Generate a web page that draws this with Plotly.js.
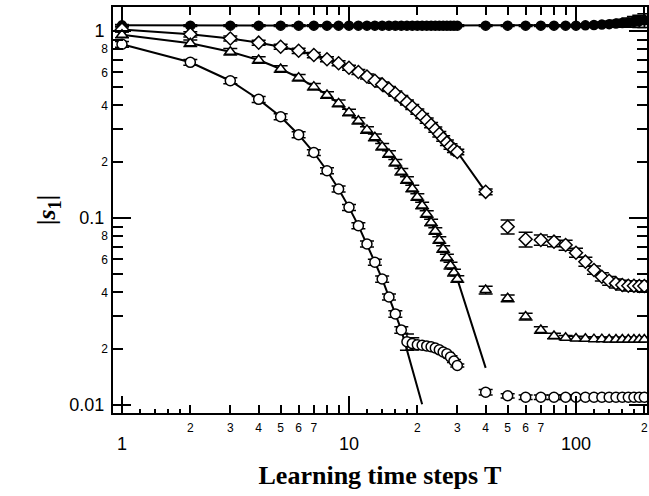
<!DOCTYPE html>
<html>
<head>
<meta charset="utf-8">
<script src="https://cdn.plot.ly/plotly-3.0.1.min.js"></script>
<style>html,body{margin:0;padding:0;background:#fff;}</style>
</head>
<body>
<div id="chart" style="width:649px;height:496px;"></div>
<script>
// ---------- data ----------
// filled circles
const fillT = [1,2,3,4,5,6,7,8,9,10,11,12,13,14,15,16,17,18,19,20,21,22,23,24,25,26,27,28,29,30,
               40,50,60,70,80,90,100,110,120,130,140,150,160,170,180,190,200];
const fillV = [1.072,1.068,1.068,1.068,1.068,1.068,1.068,1.068,1.068,1.068,1.068,1.068,1.068,1.068,1.068,
               1.068,1.068,1.068,1.068,1.068,1.068,1.068,1.068,1.068,1.068,1.068,1.068,1.068,1.068,1.068,
               1.068,1.068,1.068,1.068,1.068,1.068,1.068,1.072,1.076,1.082,1.088,1.095,1.102,1.11,1.12,1.13,1.14];
const fillE = [0.012,0.012,0.012,0.012,0.012,0.012,0.012,0.012,0.012,0.012,0.012,0.012,0.012,0.012,0.012,
               0.012,0.012,0.012,0.012,0.012,0.012,0.012,0.012,0.012,0.012,0.012,0.012,0.012,0.012,0.012,
               0.012,0.012,0.012,0.012,0.012,0.012,0.014,0.018,0.024,0.03,0.038,0.046,0.055,0.064,0.074,0.085,0.095];

// open diamonds
const diaT1 = [1,2,3,4,5,6,7,8,9,10,11,12,13,14,15,16,17,18,19,20,21,22,23,24,25,26,27,28,29,30];
const diaV1 = [1.019,0.960,0.912,0.866,0.824,0.784,0.744,0.706,0.672,0.636,0.604,0.571,0.542,0.518,0.490,
               0.463,0.438,0.415,0.392,0.371,0.351,0.332,0.314,0.297,0.281,0.266,0.253,0.241,0.232,0.2254];
const diaE1 = [0.03,0.03,0.028,0.027,0.026,0.025,0.024,0.022,0.021,0.02,0.019,0.018,0.017,0.016,0.015,
               0.015,0.014,0.013,0.012,0.012,0.011,0.011,0.010,0.010,0.0095,0.009,0.0085,0.0082,0.0079,0.0077];
const diaT2 = [40,50,60,70,80,90,100,110,120,130,140,150,160,170,180,190,200];
const diaV2 = [0.138,0.0898,0.0769,0.0763,0.0747,0.0717,0.0652,0.0584,0.0527,0.0485,0.0462,0.0447,0.0438,0.0434,0.0434,0.0433,0.0433];
const diaE2 = [0.005,0.0078,0.007,0.0047,0.0046,0.0044,0.0036,0.0032,0.0026,0.0024,0.0025,0.0025,0.0026,0.0027,0.0028,0.0028,0.0028];

// open triangles
const triT1 = [1,2,3,4,5,6,7,8,9,10,11,12,13,14,15,16,17,18,19,20,21,22,23,24,25,26,27,28,29,30];
const triV1 = [0.955,0.860,0.775,0.700,0.626,0.563,0.504,0.455,0.410,0.367,0.331,0.296,0.270,0.2405,0.2199,
               0.1975,0.1768,0.1597,0.1438,0.1295,0.1166,0.1050,0.0946,0.0852,0.0763,0.0683,0.0615,0.0557,0.0511,0.0472];
const triE1 = [0.035,0.035,0.031,0.028,0.025,0.023,0.020,0.018,0.017,0.015,0.013,0.012,0.011,0.0097,0.0089,
               0.008,0.0072,0.0065,0.0058,0.0052,0.0047,0.0042,0.0038,0.0034,0.0031,0.0028,0.0025,0.0023,0.0021,0.0019];
const triCurveEndT = [40];
const triCurveEndV = [0.0158];
const triT2 = [40,50,60,70,80,90,100,110,120,130,140,150,160,170,180,190,200];
const triV2 = [0.0412,0.0372,0.0297,0.0252,0.0234,0.0229,0.0227,0.0226,0.0225,0.0225,0.0224,0.0224,0.0224,0.0224,0.0224,0.0224,0.0224];
const triE2 = [0.002,0.0015,0.0012,0.001,0.0008,0.0006,0.0006,0.0006,0.0006,0.0006,0.0006,0.0006,0.0006,0.0006,0.0006,0.0006,0.0006];

// open circles
const cirT1 = [1,2,3,4,5,6,7,8,9,10,11,12,13,14,15,16,17];
const cirV1 = [0.849,0.680,0.542,0.431,0.348,0.279,0.224,0.179,0.143,0.114,0.091,0.0726,0.058,0.0472,0.0378,0.0307,0.0252];
const cirE1 = [0.03,0.025,0.02,0.016,0.013,0.01,0.008,0.0065,0.0052,0.0042,0.0034,0.0027,0.0022,0.0018,0.0014,0.0012,0.0010];
const cirCurveEndT = [21];
const cirCurveEndV = [0.0101];
const cirT2 = [18,19,20,21,22,23,24,25,26,27,28,29,30];
const cirV2 = [0.0218,0.0213,0.0210,0.02086,0.0207,0.02048,0.02018,0.01973,0.0192,0.01878,0.01806,0.01719,0.01626];
const cirE2 = [0.0022,0.0016,0.0010,0.0006,0.0004,0.0003,0.0003,0.0003,0.0003,0.0003,0.0003,0.0003,0.0003];
const cirT3 = [40,50,60,70,80,90,100,110,120,130,140,150,160,170,180,190,200];
const cirV3 = [0.0117,0.0112,0.0110,0.0110,0.0110,0.0110,0.0110,0.0110,0.0110,0.0110,0.0110,0.0110,0.0110,0.0110,0.0110,0.0110,0.0110];
const cirE3 = [0.0004,0.0003,0.0003,0.0003,0.0003,0.0003,0.0003,0.0003,0.0003,0.0003,0.0003,0.0003,0.0003,0.0003,0.0003,0.0003,0.0003];

// ticks
const xMajor = [1,10,100];
const xMajorText = ['1','10','100'];
const xMinor = [2,3,4,5,6,7,8,9,20,30,40,50,60,70,80,90,200];
const xMinorLab = [2,3,4,5,6,7,20,30,40,50,60,70,200];
const xMinorLabText = ['2','3','4','5','6','7','2','3','4','5','6','7','2'];
const xSub = [1.2,1.4,1.6,1.8,12,14,16,18,120,140,160,180];
const yMajor = [0.01,0.1,1];
const yMajorText = ['0.01','0.1','1'];
const yMinor = [0.02,0.03,0.04,0.05,0.06,0.07,0.08,0.09,0.2,0.3,0.4,0.5,0.6,0.7,0.8,0.9];
const yMinorLab = [0.02,0.04,0.06,0.08,0.2,0.4,0.6,0.8];
const yMinorLabText = ['2','4','6','8','2','4','6','8'];

// ---------- traces ----------
const K = 'black';
const eb = (arr) => ({type:'data', array:arr, visible:true, color:K, thickness:1.5, width:7});
const mk = (sym, fill, size) => ({symbol:sym, size:size, color:fill, line:{color:K, width:1.5}});

const traces = [
  {x:cirT1.concat(cirCurveEndT), y:cirV1.concat(cirCurveEndV), mode:'lines', line:{color:K, width:2}, hoverinfo:'skip'},
  {x:triT1.concat(triCurveEndT), y:triV1.concat(triCurveEndV), mode:'lines', line:{color:K, width:2}, hoverinfo:'skip'},
  {x:diaT1.concat(diaT2.slice(0,1)), y:diaV1.concat(diaV2.slice(0,1)), mode:'lines', line:{color:K, width:2}, hoverinfo:'skip'},
  {x:fillT, y:fillV, mode:'lines+markers', line:{color:K, width:2}, marker:mk('circle', K, 9), error_y:eb(fillE)},
  {x:diaT1, y:diaV1, mode:'markers', marker:mk('diamond', 'white', 10), error_y:eb(diaE1)},
  {x:diaT2, y:diaV2, mode:'markers', marker:mk('diamond', 'white', 10), error_y:eb(diaE2)},
  {x:triT1, y:triV1, mode:'markers', marker:mk('triangle-up', 'white', 10), error_y:eb(triE1)},
  {x:triT2, y:triV2, mode:'markers', marker:mk('triangle-up', 'white', 10), error_y:eb(triE2)},
  {x:cirT2, y:cirV2, mode:'markers', marker:mk('circle', 'white', 10), error_y:eb(cirE2)},
  {x:cirT1, y:cirV1, mode:'markers', marker:mk('circle', 'white', 10), error_y:eb(cirE1)},
  {x:cirT3, y:cirV3, mode:'markers', marker:mk('circle', 'white', 10), error_y:eb(cirE3)},
  {x:[1], y:[1], xaxis:'x2', yaxis:'y2', mode:'markers', marker:{opacity:0}, hoverinfo:'skip'}
];

const xr = [-0.0396, 2.3128];
const yr = [-2.0428, 0.1283];
const sans = 'Liberation Sans, Arial, sans-serif';
const serif = 'Liberation Serif, Times New Roman, serif';

const layout = {
  width:649, height:496,
  margin:{l:113, r:2, t:7, b:83},
  paper_bgcolor:'white', plot_bgcolor:'white',
  showlegend:false,
  xaxis:{
    type:'log', range:xr, showgrid:false, zeroline:false,
    showline:true, linewidth:2, linecolor:K, mirror:'ticks',
    ticks:'inside', ticklen:17, tickwidth:2, tickcolor:K,
    tickmode:'array', tickvals:xMajor, ticktext:xMajorText,
    tickfont:{family:sans, size:18, color:K}, ticklabelstandoff:13,
    minor:{tickmode:'array', tickvals:xMinor, ticks:'inside', ticklen:8, tickwidth:2, tickcolor:K, showgrid:false},
    title:{text:'<b>Learning time steps T</b>', font:{family:serif, size:26, color:K}, standoff:13}
  },
  xaxis2:{
    type:'log', range:xr, overlaying:'x', anchor:'y', side:'bottom',
    showgrid:false, zeroline:false, showline:false, mirror:'ticks',
    ticks:'', tickmode:'array', tickvals:xMinorLab, ticktext:xMinorLabText,
    tickfont:{family:sans, size:12, color:K}, ticklabelstandoff:6,
    minor:{tickmode:'array', tickvals:xSub, ticks:'inside', ticklen:4, tickwidth:2, tickcolor:K, showgrid:false}
  },
  yaxis:{
    type:'log', range:yr, showgrid:false, zeroline:false,
    showline:true, linewidth:2, linecolor:K, mirror:'ticks',
    ticks:'inside', ticklen:18, tickwidth:2, tickcolor:K,
    tickmode:'array', tickvals:yMajor, ticktext:yMajorText,
    tickfont:{family:sans, size:18, color:K}, ticklabelstandoff:3,
    minor:{tickmode:'array', tickvals:yMinor, ticks:'inside', ticklen:10, tickwidth:2, tickcolor:K, showgrid:false},
    title:{text:'<b>|<i>s</i><sub>1</sub>|</b>', font:{family:serif, size:26, color:K}, standoff:6}
  },
  yaxis2:{
    type:'log', range:yr, overlaying:'y', anchor:'x', side:'left',
    showgrid:false, zeroline:false, showline:false,
    ticks:'', tickmode:'array', tickvals:yMinorLab, ticktext:yMinorLabText,
    tickfont:{family:sans, size:12, color:K}, ticklabelstandoff:4
  }
};

Plotly.newPlot('chart', traces, layout, {displayModeBar:false, staticPlot:true});
</script>
</body>
</html>
